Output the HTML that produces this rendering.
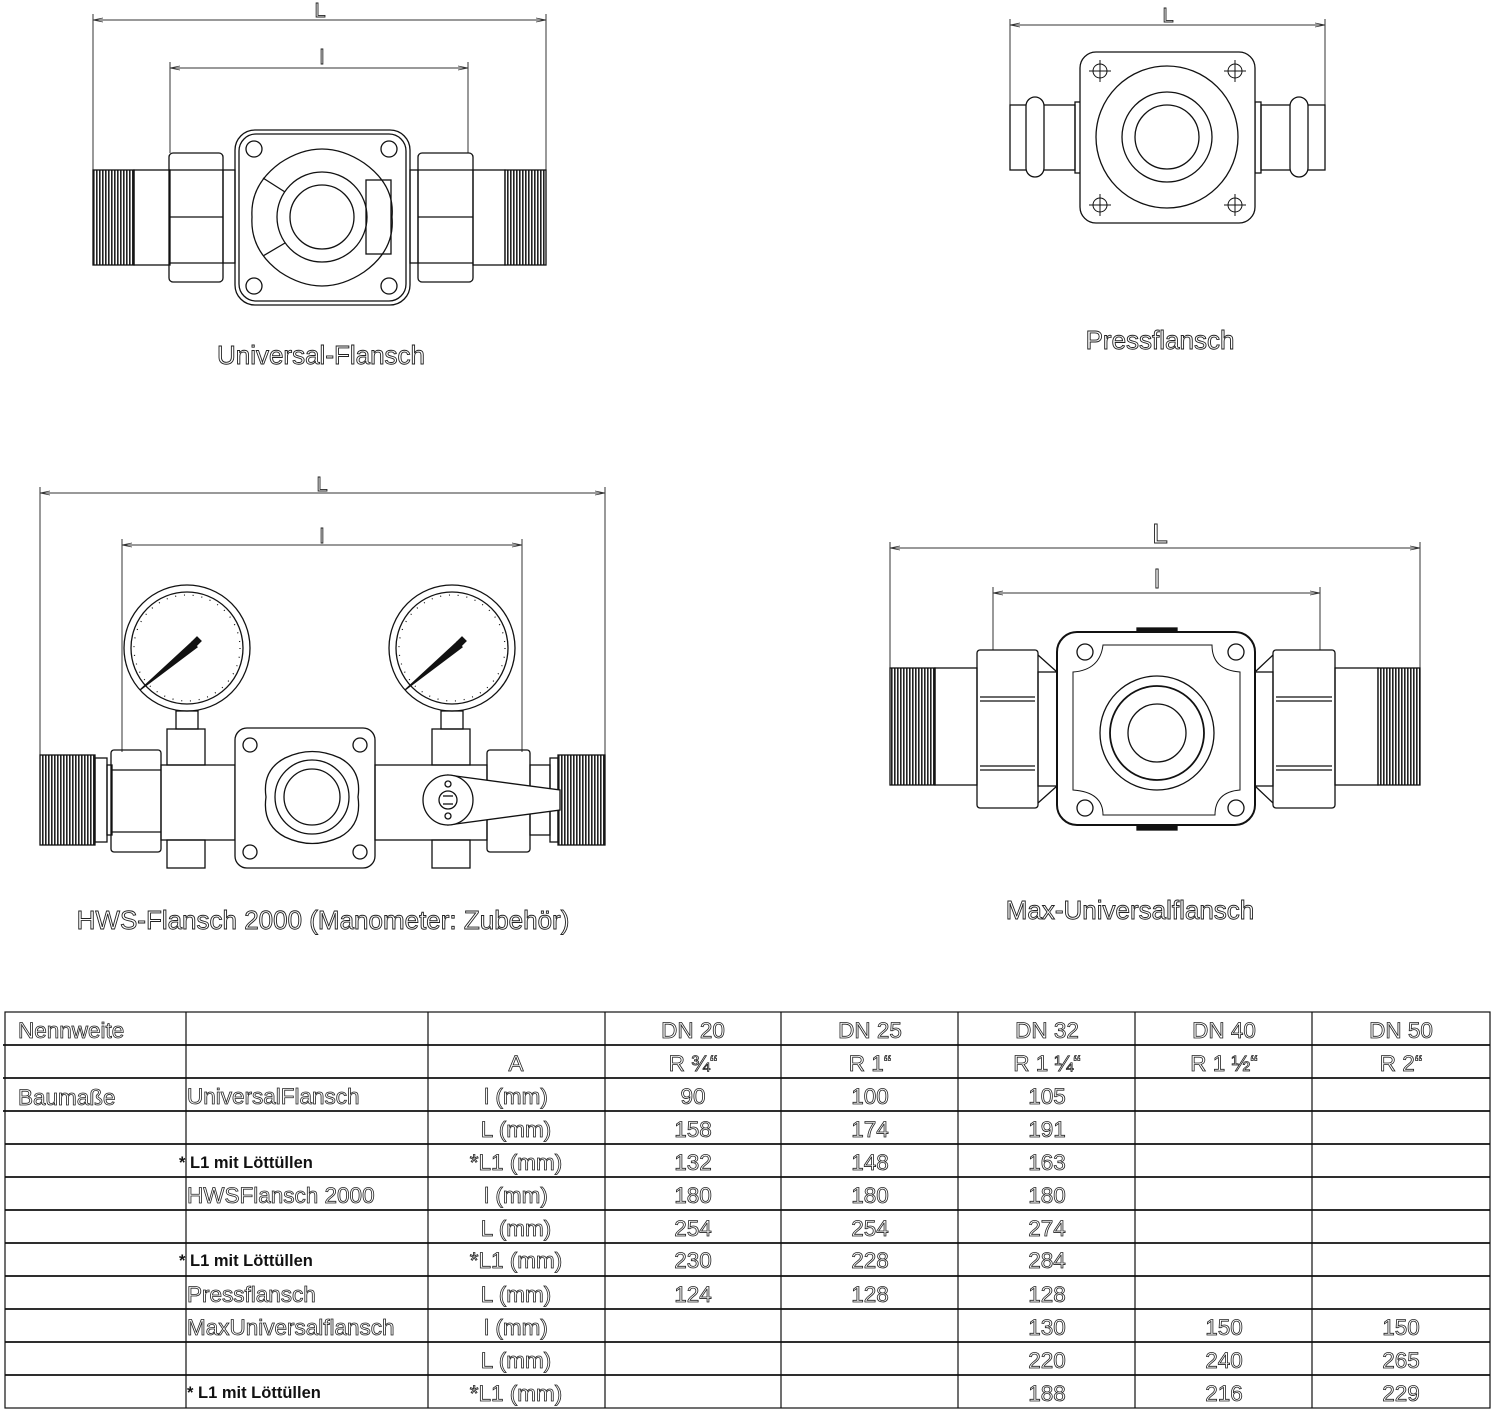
<!DOCTYPE html>
<html><head><meta charset="utf-8"><style>
html,body{margin:0;padding:0;background:#fff}
svg{display:block}
.o{font-family:"Liberation Sans",sans-serif;fill:#fff;stroke:#222;stroke-width:0.9}
.t{font-family:"Liberation Sans",sans-serif;fill:#fff;stroke:#222;stroke-width:0.8;font-size:22.5px;text-anchor:middle}
.s{font-family:"Liberation Sans",sans-serif;fill:#111;font-size:16.5px;font-weight:bold}
.l{fill:none;stroke:#111;stroke-width:1.3}
.d{fill:none;stroke:#333;stroke-width:1}
</style></head><body>
<svg width="1500" height="1416" viewBox="0 0 1500 1416" xmlns="http://www.w3.org/2000/svg">
<defs>
<pattern id="th" width="3" height="10" patternUnits="userSpaceOnUse"><rect width="3" height="10" fill="#fff"/><rect width="1.6" height="10" fill="#222"/></pattern>
<marker id="ar" markerWidth="10" markerHeight="6" refX="10" refY="3" orient="auto-start-reverse"><path d="M0,1 L10,3 L0,5" fill="none" stroke="#333" stroke-width="0.8"/></marker>
</defs>

<!-- ============ Universal-Flansch ============ -->
<g class="d">
<line x1="93" y1="20" x2="546" y2="20" marker-start="url(#ar)" marker-end="url(#ar)"/>
<line x1="93" y1="14" x2="93" y2="170"/><line x1="546" y1="14" x2="546" y2="170"/>
<line x1="170" y1="68" x2="468" y2="68" marker-start="url(#ar)" marker-end="url(#ar)"/>
<line x1="170" y1="62" x2="170" y2="153"/><line x1="468" y1="62" x2="468" y2="153"/>
</g>
<text x="320" y="17" class="o" font-size="20" text-anchor="middle">L</text>
<text x="322" y="64" class="o" font-size="20" text-anchor="middle">l</text>
<g class="l">
<rect x="93" y="170" width="41" height="95" fill="url(#th)"/>
<rect x="134" y="170" width="36" height="95"/>
<rect x="169" y="153" width="54" height="129" rx="4"/>
<line x1="169" y1="170" x2="223" y2="170"/><line x1="169" y1="217" x2="223" y2="217"/><line x1="169" y1="263" x2="223" y2="263"/>
<rect x="223" y="170" width="12" height="93"/>
<rect x="235" y="130" width="175" height="175" rx="20"/>
<rect x="239" y="134" width="167" height="167" rx="17"/>
<circle cx="254" cy="149" r="8"/><circle cx="389" cy="149" r="8"/><circle cx="254" cy="286" r="8"/><circle cx="389" cy="286" r="8"/>
<path d="M280,163 Q322,135 364,163 Q395,185 392,217 Q395,250 364,272 Q322,300 280,272 Q250,250 252,217 Q250,185 280,163 Z"/>
<circle cx="322" cy="217" r="45"/><circle cx="322" cy="217" r="32"/>
<line x1="263" y1="178" x2="285" y2="192"/><line x1="263" y1="256" x2="285" y2="243"/>
<rect x="366" y="180" width="25" height="74"/>
<rect x="410" y="170" width="8" height="93"/>
<rect x="418" y="153" width="55" height="129" rx="4"/>
<line x1="418" y1="170" x2="473" y2="170"/><line x1="418" y1="217" x2="473" y2="217"/><line x1="418" y1="263" x2="473" y2="263"/>
<rect x="473" y="170" width="32" height="95"/>
<rect x="505" y="170" width="41" height="95" fill="url(#th)"/>
</g>
<text x="321" y="364" class="o" font-size="26" text-anchor="middle">Universal-Flansch</text>

<!-- ============ Pressflansch ============ -->
<g class="d">
<line x1="1010" y1="25" x2="1325" y2="25" marker-start="url(#ar)" marker-end="url(#ar)"/>
<line x1="1010" y1="19" x2="1010" y2="105"/><line x1="1325" y1="19" x2="1325" y2="105"/>
</g>
<text x="1168" y="22" class="o" font-size="20" text-anchor="middle">L</text>
<g class="l">
<rect x="1010" y="105" width="65" height="65"/>
<rect x="1026" y="97" width="18" height="80" rx="9" fill="#fff"/>
<rect x="1075" y="102" width="6" height="71"/>
<rect x="1255" y="102" width="6" height="71"/>
<rect x="1261" y="105" width="64" height="65"/>
<rect x="1290" y="97" width="18" height="80" rx="9" fill="#fff"/>
<rect x="1080" y="52" width="175" height="171" rx="16" fill="#fff"/>
<circle cx="1167" cy="137" r="71"/><circle cx="1167" cy="137" r="45"/><circle cx="1167" cy="137" r="32"/>
<g stroke-width="1"><circle cx="1100" cy="71" r="7"/><path d="M1089,71h22M1100,60v22"/>
<circle cx="1235" cy="71" r="7"/><path d="M1224,71h22M1235,60v22"/>
<circle cx="1100" cy="205" r="7"/><path d="M1089,205h22M1100,194v22"/>
<circle cx="1235" cy="205" r="7"/><path d="M1224,205h22M1235,194v22"/></g>
</g>
<text x="1160" y="349" class="o" font-size="26" text-anchor="middle">Pressflansch</text>

<!-- ============ HWS-Flansch ============ -->
<g class="d">
<line x1="40" y1="493" x2="605" y2="493" marker-start="url(#ar)" marker-end="url(#ar)"/>
<line x1="40" y1="487" x2="40" y2="755"/><line x1="605" y1="487" x2="605" y2="755"/>
<line x1="122" y1="545" x2="522" y2="545" marker-start="url(#ar)" marker-end="url(#ar)"/>
<line x1="122" y1="539" x2="122" y2="752"/><line x1="522" y1="539" x2="522" y2="752"/>
</g>
<text x="322" y="491" class="o" font-size="20" text-anchor="middle">L</text>
<text x="322" y="543" class="o" font-size="20" text-anchor="middle">l</text>
<g class="l">
<circle cx="187" cy="648" r="63"/><circle cx="187" cy="648" r="56"/>
<circle cx="452" cy="648" r="63"/><circle cx="452" cy="648" r="56"/>
<g stroke-width="1.2" stroke-dasharray="1 7.8">
<circle cx="187" cy="648" r="53"/><circle cx="452" cy="648" r="53"/></g>
<path d="M140,690 L192,642 L197,647 Z" fill="#111"/>
<path d="M192,642 l5,-5 l4,4 l-5,5 z" fill="#111"/>
<path d="M405,690 L457,642 L462,647 Z" fill="#111"/>
<path d="M457,642 l5,-5 l4,4 l-5,5 z" fill="#111"/>
<rect x="176" y="711" width="22" height="18"/><rect x="441" y="711" width="22" height="18"/>
<rect x="40" y="755" width="55" height="90" fill="url(#th)"/>
<rect x="95" y="758" width="12" height="84"/>
<rect x="107" y="765" width="5" height="70"/>
<rect x="111" y="750" width="50" height="102" rx="3"/>
<line x1="111" y1="770" x2="161" y2="770"/><line x1="111" y1="832" x2="161" y2="832"/>
<rect x="161" y="765" width="74" height="75"/>
<rect x="167" y="729" width="38" height="36"/>
<rect x="167" y="840" width="38" height="28"/>
<rect x="235" y="728" width="140" height="140" rx="12" fill="#fff"/>
<circle cx="250" cy="745" r="7"/><circle cx="360" cy="745" r="7"/><circle cx="250" cy="852" r="7"/><circle cx="360" cy="852" r="7"/>
<path d="M285,758 Q312,745 340,758 Q362,770 358,797 Q362,825 340,837 Q312,850 285,837 Q262,825 266,797 Q262,770 285,758 Z"/>
<circle cx="312" cy="797" r="37"/><circle cx="312" cy="797" r="28"/>
<rect x="375" y="765" width="112" height="75"/>
<rect x="432" y="729" width="38" height="36"/>
<rect x="432" y="840" width="38" height="28"/>
<rect x="487" y="750" width="43" height="102" rx="3"/>
<rect x="530" y="765" width="20" height="70"/>
<rect x="550" y="758" width="8" height="84"/>
<rect x="558" y="755" width="47" height="90" fill="url(#th)"/>
<path d="M448,775 L560,790 L560,810 L448,825 Z" fill="#fff"/>
<circle cx="448" cy="800" r="25" fill="#fff"/>
<circle cx="448" cy="800" r="9"/>
<line x1="443" y1="796" x2="453" y2="796"/><line x1="443" y1="804" x2="453" y2="804"/>
<circle cx="448" cy="784" r="3"/><circle cx="448" cy="816" r="3"/>
</g>
<text x="323" y="929" class="o" font-size="26" text-anchor="middle">HWS-Flansch 2000 (Manometer: Zubehör)</text>

<!-- ============ Max-Universalflansch ============ -->
<g class="d">
<line x1="890" y1="548" x2="1420" y2="548" marker-start="url(#ar)" marker-end="url(#ar)"/>
<line x1="890" y1="542" x2="890" y2="668"/><line x1="1420" y1="542" x2="1420" y2="668"/>
<line x1="993" y1="593" x2="1320" y2="593" marker-start="url(#ar)" marker-end="url(#ar)"/>
<line x1="993" y1="587" x2="993" y2="650"/><line x1="1320" y1="587" x2="1320" y2="650"/>
</g>
<text x="1160" y="543" class="o" font-size="28" text-anchor="middle">L</text>
<text x="1157" y="588" class="o" font-size="26" text-anchor="middle">l</text>
<g class="l">
<rect x="890" y="668" width="45" height="117" fill="url(#th)"/>
<rect x="935" y="668" width="42" height="117"/>
<rect x="977" y="650" width="61" height="158" rx="3"/>
<line x1="980" y1="697" x2="1035" y2="697"/><line x1="980" y1="701" x2="1035" y2="701"/>
<line x1="980" y1="766" x2="1035" y2="766"/><line x1="980" y1="770" x2="1035" y2="770"/>
<path d="M1038,655 L1057,672 M1038,803 L1057,786"/>
<rect x="1038" y="672" width="19" height="114"/>
<rect x="1137" y="628" width="40" height="6" fill="#111"/>
<rect x="1137" y="824" width="40" height="6" fill="#111"/>
<rect x="1057" y="632" width="198" height="193" rx="20" fill="#fff" stroke-width="2"/>
<path d="M1103,645 L1212,645 Q1212,670 1240,672 L1240,790 Q1215,792 1215,815 L1103,815 Q1103,792 1073,790 L1073,672 Q1100,670 1103,645 Z" stroke-width="1"/>
<circle cx="1085" cy="652" r="8"/><circle cx="1236" cy="652" r="8"/><circle cx="1085" cy="808" r="8"/><circle cx="1236" cy="808" r="8"/>
<circle cx="1157" cy="733" r="57"/><circle cx="1157" cy="733" r="47" stroke-width="1.8"/><circle cx="1157" cy="733" r="29"/>
<rect x="1255" y="672" width="18" height="114"/>
<path d="M1255,672 L1273,655 M1255,786 L1273,803"/>
<rect x="1273" y="650" width="62" height="158" rx="3"/>
<line x1="1276" y1="697" x2="1332" y2="697"/><line x1="1276" y1="701" x2="1332" y2="701"/>
<line x1="1276" y1="766" x2="1332" y2="766"/><line x1="1276" y1="770" x2="1332" y2="770"/>
<rect x="1335" y="668" width="43" height="117"/>
<rect x="1378" y="668" width="42" height="117" fill="url(#th)"/>
</g>
<text x="1130" y="919" class="o" font-size="26" text-anchor="middle">Max-Universalflansch</text>

<!-- ============ Table ============ -->
<g stroke="#111" stroke-width="1.2">
<rect x="5" y="1012" width="1485" height="396" fill="none"/>
<line x1="186" y1="1012" x2="186" y2="1408"/>
<line x1="428" y1="1012" x2="428" y2="1408"/>
<line x1="605" y1="1012" x2="605" y2="1408"/>
<line x1="781" y1="1012" x2="781" y2="1408"/>
<line x1="958" y1="1012" x2="958" y2="1408"/>
<line x1="1135" y1="1012" x2="1135" y2="1408"/>
<line x1="1312" y1="1012" x2="1312" y2="1408"/>
<g stroke-width="1.8">
<line x1="3" y1="1045" x2="1490" y2="1045"/>
<line x1="3" y1="1078" x2="1490" y2="1078"/>
<line x1="3" y1="1111" x2="1490" y2="1111"/>
<line x1="5" y1="1144" x2="1490" y2="1144"/>
<line x1="5" y1="1177" x2="1490" y2="1177"/>
<line x1="5" y1="1210" x2="1490" y2="1210"/>
<line x1="5" y1="1243" x2="1490" y2="1243"/>
<line x1="5" y1="1276" x2="1490" y2="1276"/>
<line x1="5" y1="1309" x2="1490" y2="1309"/>
<line x1="5" y1="1342" x2="1490" y2="1342"/>
<line x1="5" y1="1375" x2="1490" y2="1375"/>
</g>
</g>
<g class="t">
<text x="18" y="1038" style="text-anchor:start">Nennweite</text>
<text x="693" y="1038">DN 20</text><text x="870" y="1038">DN 25</text><text x="1047" y="1038">DN 32</text><text x="1224" y="1038">DN 40</text><text x="1401" y="1038">DN 50</text>
<text x="516" y="1071">A</text>
<text x="693" y="1071">R ¾“</text><text x="870" y="1071">R 1“</text><text x="1047" y="1071">R 1 ¼“</text><text x="1224" y="1071">R 1 ½“</text><text x="1401" y="1071">R 2“</text>
<text x="18" y="1105" style="text-anchor:start">Baumaße</text>
<text x="187" y="1104" style="text-anchor:start">UniversalFlansch</text>
<text x="516" y="1104">l (mm)</text><text x="693" y="1104">90</text><text x="870" y="1104">100</text><text x="1047" y="1104">105</text>
<text x="516" y="1137">L (mm)</text><text x="693" y="1137">158</text><text x="870" y="1137">174</text><text x="1047" y="1137">191</text>
<text x="516" y="1170">*L1 (mm)</text><text x="693" y="1170">132</text><text x="870" y="1170">148</text><text x="1047" y="1170">163</text>
<text x="187" y="1203" style="text-anchor:start">HWSFlansch 2000</text>
<text x="516" y="1203">l (mm)</text><text x="693" y="1203">180</text><text x="870" y="1203">180</text><text x="1047" y="1203">180</text>
<text x="516" y="1236">L (mm)</text><text x="693" y="1236">254</text><text x="870" y="1236">254</text><text x="1047" y="1236">274</text>
<text x="516" y="1268">*L1 (mm)</text><text x="693" y="1268">230</text><text x="870" y="1268">228</text><text x="1047" y="1268">284</text>
<text x="187" y="1302" style="text-anchor:start">Pressflansch</text>
<text x="516" y="1302">L (mm)</text><text x="693" y="1302">124</text><text x="870" y="1302">128</text><text x="1047" y="1302">128</text>
<text x="187" y="1335" style="text-anchor:start">MaxUniversalflansch</text>
<text x="516" y="1335">l (mm)</text><text x="1047" y="1335">130</text><text x="1224" y="1335">150</text><text x="1401" y="1335">150</text>
<text x="516" y="1368">L (mm)</text><text x="1047" y="1368">220</text><text x="1224" y="1368">240</text><text x="1401" y="1368">265</text>
<text x="516" y="1401">*L1 (mm)</text><text x="1047" y="1401">188</text><text x="1224" y="1401">216</text><text x="1401" y="1401">229</text>
</g>
<text x="179" y="1168" class="s">* L1 mit Löttüllen</text>
<text x="179" y="1266" class="s">* L1 mit Löttüllen</text>
<text x="187" y="1398" class="s">* L1 mit Löttüllen</text>
</svg>
</body></html>
